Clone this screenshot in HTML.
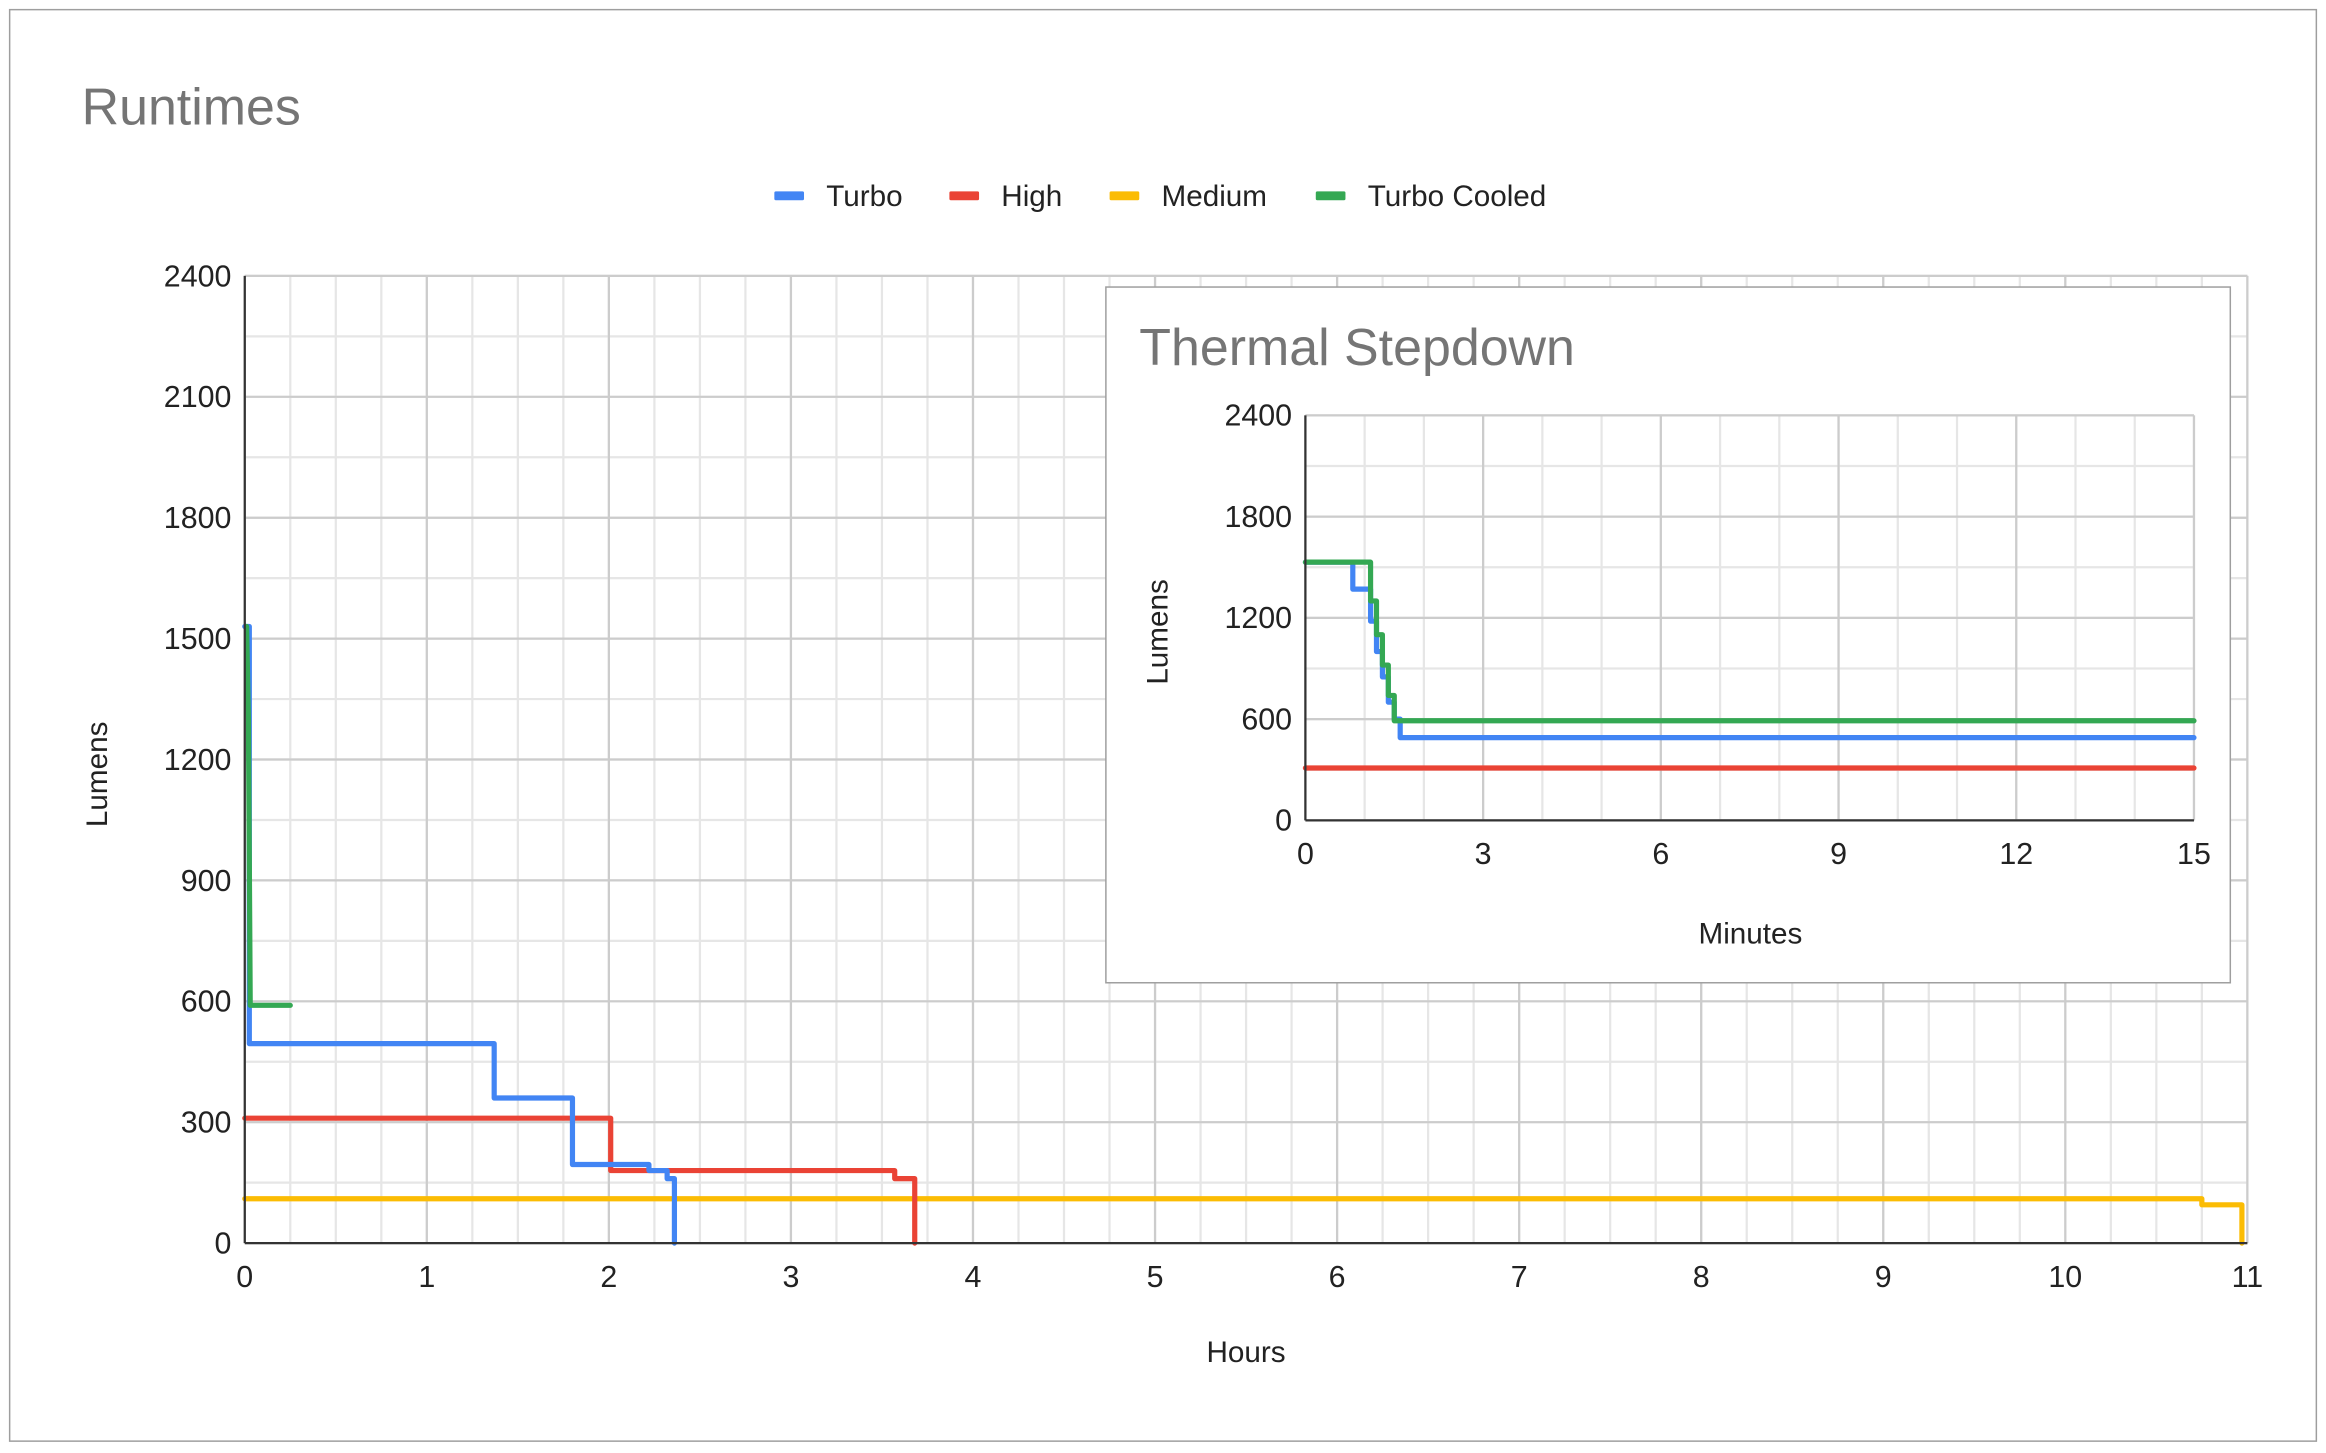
<!DOCTYPE html>
<html><head><meta charset="utf-8"><style>
html,body{margin:0;padding:0;background:#fff;}
svg{display:block;font-family:"Liberation Sans",Arial,sans-serif;}
</style></head><body>
<svg id="chart" width="2326" height="1453" viewBox="0 0 1568 979.5" xmlns="http://www.w3.org/2000/svg">
<rect x="6.5" y="6.5" width="1555" height="965" fill="#fff" stroke="#9e9e9e" stroke-width="1"/>
<text x="55" y="84" font-size="35" fill="#757575">Runtimes</text>
<g id="legend"></g>
<g id="main"></g>
<text x="840" y="918" font-size="20" text-anchor="middle" fill="#222">Hours</text>
<text transform="translate(72,522) rotate(-90)" font-size="20" text-anchor="middle" fill="#222">Lumens</text>
<rect x="745.5" y="193.5" width="758" height="469" fill="#fff" stroke="#9e9e9e" stroke-width="1"/>
<text x="768" y="246" font-size="35" fill="#757575">Thermal Stepdown</text>
<g id="inset"></g>
<text x="1180" y="636" font-size="20" text-anchor="middle" fill="#222">Minutes</text>
<text transform="translate(787,426) rotate(-90)" font-size="20" text-anchor="middle" fill="#222">Lumens</text>
</svg>
<script>
const seriesNames = ["Turbo","High","Medium","Turbo Cooled"];
const seriesColors = ["#4285f4","#ea4335","#fbbc04","#34a853"];
// main chart (hours) step series: x values and y values
const turboHoursX = [0,0.025,0.025,1.37,1.37,1.8,1.8,2.22,2.22,2.32,2.32,2.36,2.36];
const turboHoursY = [1530,1530,495,495,360,360,195,195,180,180,160,160,0];
const highHoursX = [0,2.01,2.01,3.57,3.57,3.68,3.68];
const highHoursY = [310,310,180,180,160,160,0];
const mediumHoursX = [0,10.75,10.75,10.97,10.97];
const mediumHoursY = [110,110,95,95,0];
const cooledHoursX = [0.01,0.02,0.03,0.25];
const cooledHoursY = [1530,1300,590,590];
const mainXTicks = [0,1,2,3,4,5,6,7,8,9,10,11];
const mainYTicks = [0,300,600,900,1200,1500,1800,2100,2400];
// inset (minutes)
const turboMinX = [0,0.8,0.8,1.1,1.1,1.2,1.2,1.3,1.3,1.4,1.4,1.5,1.5,1.6,1.6,15];
const turboMinY = [1530,1530,1370,1370,1180,1180,1000,1000,850,850,700,700,600,600,490,490];
const highMinX = [0,15];
const highMinY = [310,310];
const cooledMinX = [0,1.1,1.1,1.2,1.2,1.3,1.3,1.4,1.4,1.5,1.5,1.55,1.55,15];
const cooledMinY = [1530,1530,1300,1300,1100,1100,920,920,740,740,590,590,590,590];
const insetXTicks = [0,3,6,9,12,15];
const insetYTicks = [0,600,1200,1800,2400];

const NS="http://www.w3.org/2000/svg";
function mk(tag,attrs,parent){const e=document.createElementNS(NS,tag);for(const k in attrs)e.setAttribute(k,attrs[k]);parent.appendChild(e);return e;}

function drawPlot(g,box,xMax,yMax,xMinorStep,yMinorStep,xTicks,yTicks,series,prefix,fs){
  const sx=v=>box.l+(v/xMax)*(box.r-box.l);
  const sy=v=>box.b-(v/yMax)*(box.b-box.t);
  for(let v=0;v<=xMax+1e-9;v+=xMinorStep){const l=mk('line',{x1:sx(v),x2:sx(v),y1:box.t,y2:box.b,stroke:'#e6e6e6','stroke-width':1.5},g);
    }
  for(let v=0;v<=yMax+1e-9;v+=yMinorStep){const l=mk('line',{x1:box.l,x2:box.r,y1:sy(v),y2:sy(v),stroke:'#e6e6e6','stroke-width':1.5},g);
    }
  xTicks.forEach(v=>{const l=mk('line',{x1:sx(v),x2:sx(v),y1:box.t,y2:box.b,stroke:'#cccccc','stroke-width':1.5},g);
    
    const t=mk('text',{x:sx(v),y:box.b+fs+9,'font-size':fs,'text-anchor':'middle',fill:'#222'},g);t.textContent=v;
    });
  yTicks.forEach(v=>{const l=mk('line',{x1:box.l,x2:box.r,y1:sy(v),y2:sy(v),stroke:'#cccccc','stroke-width':1.5},g);
    
    const t=mk('text',{x:box.l-9,y:sy(v)+7,'font-size':fs,'text-anchor':'end',fill:'#222'},g);t.textContent=v;
    });
  series.forEach(s=>{const pts=s.x.map((x,i)=>sx(x)+','+sy(s.y[i])).join(' ');
    const p=mk('polyline',{points:pts,fill:'none',stroke:s.c,'stroke-width':3.5,'stroke-linejoin':'round','stroke-linecap':'round'},g);
    });
  const ax=mk('line',{x1:box.l,x2:box.l,y1:box.t,y2:box.b,stroke:'#333','stroke-width':1.5},g);
  
  const bx=mk('line',{x1:box.l,x2:box.r,y1:box.b,y2:box.b,stroke:'#333','stroke-width':1.5},g);
  
}

drawPlot(document.getElementById('main'),{l:165,r:1515,t:186,b:838},11,2400,0.25,150,mainXTicks,mainYTicks,[
  {x:mediumHoursX,y:mediumHoursY,c:seriesColors[2],n:'medium'},
  {x:highHoursX,y:highHoursY,c:seriesColors[1],n:'high'},
  {x:turboHoursX,y:turboHoursY,c:seriesColors[0],n:'turbo'},
  {x:cooledHoursX,y:cooledHoursY,c:seriesColors[3],n:'turbo-cooled'}],'main-',20.5);

drawPlot(document.getElementById('inset'),{l:880,r:1479,t:280,b:553},15,2400,1,300,insetXTicks,insetYTicks,[
  {x:highMinX,y:highMinY,c:seriesColors[1],n:'high'},
  {x:turboMinX,y:turboMinY,c:seriesColors[0],n:'turbo'},
  {x:cooledMinX,y:cooledMinY,c:seriesColors[3],n:'turbo-cooled'}],'inset-',20.5);

const legend=document.getElementById('legend');
const legendX=[522,640,748,887];
seriesNames.forEach((n,i)=>{
  const r=mk('rect',{x:legendX[i],y:129,width:20,height:6,rx:1,fill:seriesColors[i]},legend);
  
  
  const t=mk('text',{x:legendX[i]+35,y:139,'font-size':20,fill:'#222'},legend);t.textContent=n;
  
  
});
</script>
</body></html>
